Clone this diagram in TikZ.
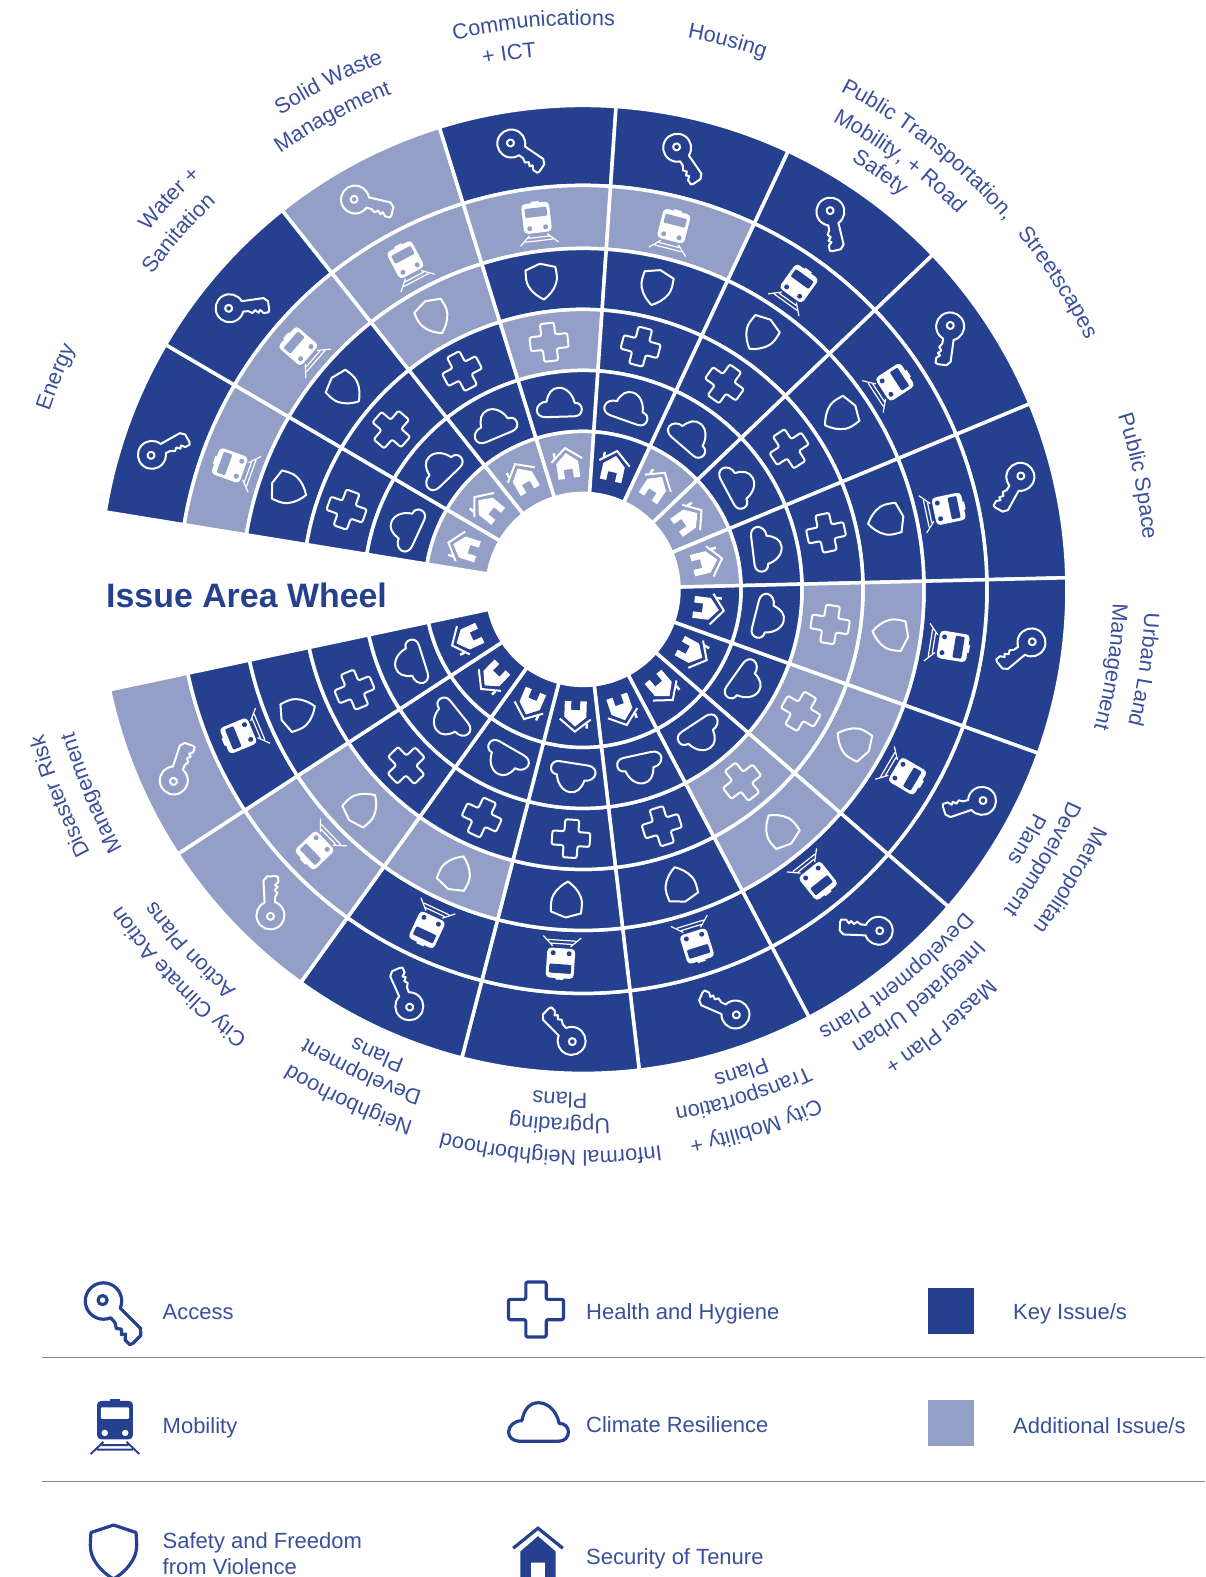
\documentclass[tikz,border=0pt]{standalone}
\usepackage{fontspec}
\setmainfont{Liberation Sans}
\usetikzlibrary{decorations.text}
\definecolor{toned}{HTML}{25408F}
\definecolor{tonel}{HTML}{939FC6}
\definecolor{wheeltext}{HTML}{3A4F9C}
\definecolor{rulegray}{HTML}{8A8A8A}
\colorlet{iconfg}{white}
\colorlet{iconbg}{toned}
\def\iconlw{2}
\newcommand\lblfont{\fontsize{21.7}{26}\selectfont\color{wheeltext}}
\tikzset{
    cell/.style={draw=white,line width=3.5,fill=iconbg},
    iconline/.style={draw=iconfg,line width=\iconlw,line join=round},
    legendtext/.style={anchor=west,inner sep=0pt,text=wheeltext,font=\fontsize{22}{26}\selectfont,align=left},
    swatch/.style={minimum size=46,inner sep=0pt}
}
% icons, drawn around the origin with the rim of the wheel upwards
\newcommand\iconKey{
    \begin{scope}[rotate=-41,shift={(-12.5,0)}]
    \draw[iconline] (22:14) arc[start angle=22,end angle=338,radius=14] -- (18,-5.5) -- (22,-8) -- (25,-5.5) -- (28,-8.5) -- (30,-6) -- (33,-9.5) -- (38,-9.5) -- (39,-7) -- (39,1.5) -- (35,5.3) -- cycle;
    \draw[iconline] (-1,0) circle (3.5);
    \end{scope}
}
\newcommand\iconTrain{
    \fill[iconfg,rounded corners=4] (-14,-10) rectangle (14,20);
    \fill[iconfg] (-4,19) rectangle (4,21.5);
    \fill[iconbg,rounded corners=1] (-11,6) rectangle (11,15);
    \fill[iconbg] (-8,-5) circle (2.5) (8,-5) circle (2.5);
    \draw[iconfg,line width=\iconlw*0.6] (-9,-12) -- (-19,-21.5) (9,-12) -- (19,-21.5) (-10.5,-14.5) -- (10.5,-14.5) (-14,-18) -- (14,-18);
}
\newcommand\iconShield{
    \draw[iconline] (0,18) -- (15,13) .. controls (15.5,6) and (16,2) .. (14,-3) .. controls (11,-10) and (5,-15) .. (0,-18) .. controls (-5,-15) and (-11,-10) .. (-14,-3) .. controls (-16,2) and (-15.5,6) .. (-15,13) -- cycle;
}
\newcommand\iconCross{
    \draw[iconline,rounded corners=2] (-7,19) -- (7,19) -- (7,7) -- (19,7) -- (19,-7) -- (7,-7) -- (7,-19) -- (-7,-19) -- (-7,-7) -- (-19,-7) -- (-19,7) -- (-7,7) -- cycle;
}
\newcommand\iconCloud{
    \draw[iconline] (-14,-14.5) -- (15,-14.5) .. controls (20,-14.5) and (22.5,-11) .. (22.5,-7.5) .. controls (22.5,-4) and (20,-1) .. (15.5,-1) .. controls (14,7) and (8,14.5) .. (0,14.5) .. controls (-7,14.5) and (-11,9) .. (-12.5,1) .. controls (-18,1) and (-22.5,-3) .. (-22.5,-7.5) .. controls (-22.5,-11.5) and (-19,-14.5) .. (-14,-14.5) -- cycle;
}
\newcommand\iconChimney{\fill[iconfg] (-13,7) rectangle (-10.5,12);}
\newcommand\iconHouse{
    \fill[iconfg] (-11,-15) -- (-11,1) -- (0,10.5) -- (11,1) -- (11,-15) -- (4.5,-15) -- (4.5,-6) -- (-4.5,-6) -- (-4.5,-15) -- cycle;
    \draw[iconfg,line width=\iconlw] (-15.5,3) -- (0,15.5) -- (15.5,3);
    \iconChimney
}
\newcommand\wheeltext[3]{
    \path[decorate,decoration={text along path,text={|\lblfont|#3},text align=center}] (#1+55:#2) arc[start angle=#1+55,end angle=#1-55,radius=#2];
}
\begin{document}
\begin{tikzpicture}[x=1pt,y=1pt]
    \useasboundingbox (0,0) rectangle (1205,-1577);
    \clip (0,0) rectangle (1205,-1577);
    \begin{scope}[shift={(583,-589.4)}]
    \def \step {21.176}
    \foreach \s/\tkey/\ttrain/\tshield/\tcross/\tcloud/\thouse in {
        0/d/l/d/d/d/l, 1/d/l/d/d/d/l, 2/l/l/l/d/d/l, 3/d/l/d/l/d/l,
        4/d/l/d/d/d/d, 5/d/d/d/d/d/l, 6/d/d/d/d/d/l, 7/d/d/d/d/d/l,
        8/d/d/l/l/d/d, 9/d/d/l/l/d/d, 10/d/d/l/l/d/d, 11/d/d/d/d/d/d,
        12/d/d/d/d/d/d, 13/d/d/l/d/d/d, 14/l/l/l/d/d/d, 15/l/d/d/d/d/d}{
    \pgfmathsetmacro\mid{160.2-\step*\s}
    \pgfmathsetmacro\aone{\mid+\step/2}
    \pgfmathsetmacro\atwo{\mid-\step/2}
    \foreach \rin/\rout/\tone/\ico/\dx/\dy/\dturn in {
        404/484/\tkey/\iconKey/-10/-1/0, 341/404/\ttrain/\iconTrain/-3/-3/0, 280/341/\tshield/\iconShield/-5/0/0,
        219/280/\tcross/\iconCross/-5/0/0, 158/219/\tcloud/\iconCloud/-2/0/-5, 96/158/\thouse/\iconHouse/-1/0/2}{
    \colorlet{iconbg}{tone\tone}
    \draw[cell] (\aone:\rin) arc[start angle=\aone,end angle=\atwo,radius=\rin] -- (\atwo:\rout) arc[start angle=\atwo,end angle=\aone,radius=\rout] -- cycle;
    \begin{scope}[shift={(\mid:{(\rin+\rout)/2})},rotate=\mid-90+\dturn,shift={(\dx,\dy)}]
    \ico
    \end{scope}
    }
    }
    \end{scope}
    % labels round the rim
    \begin{scope}[shift={(584,-588)}]
    \wheeltext{158.2}{563}{Energy}
    \wheeltext{136.8}{563}{Water +}
    \wheeltext{138.8}{533}{Sanitation}
    \wheeltext{116.8}{562}{Solid Waste}
    \wheeltext{118.1}{530}{Management}
    \wheeltext{95.1}{563}{Communications}
    \wheeltext{98}{533}{+ ICT}
    \wheeltext{75.3}{560}{Housing}
    \wheeltext{51.9}{559}{Public Transportation,}
    \wheeltext{53.5}{529}{Mobility, + Road}
    \wheeltext{54.5}{504}{Safety}
    \wheeltext{32.8}{560}{Streetscapes}
    \wheeltext{11.4}{561}{Public Space}
    \wheeltext{-8.3}{561}{Urban Land}
    \wheeltext{-8.5}{529}{Management}
    \wheeltext{-31}{563}{Metropolitan}
    \wheeltext{-30.6}{529}{Development}
    \wheeltext{-29.6}{503}{Plans}
    \wheeltext{-50.9}{562}{Master Plan +}
    \wheeltext{-50.7}{527}{Integrated Urban}
    \wheeltext{-51.2}{499}{Development Plans}
    \wheeltext{-72.3}{562}{City Mobility +}
    \wheeltext{-72.5}{528}{Transportation}
    \wheeltext{-72}{503}{Plans}
    \wheeltext{-93.4}{563}{Informal Neighborhood}
    \wheeltext{-92.6}{531}{Upgrading}
    \wheeltext{-92.7}{505}{Plans}
    \wheeltext{-114.7}{560}{Neighborhood}
    \wheeltext{-114.7}{529}{Development}
    \wheeltext{-113.9}{504}{Plans}
    \wheeltext{-136.2}{561}{City Climate Action}
    \wheeltext{-137.4}{531}{Action Plans}
    \wheeltext{-158.3}{560}{Disaster Risk}
    \wheeltext{-157.4}{530}{Management}
    \end{scope}
    \node[anchor=west,inner sep=0pt,text=toned,font=\fontsize{33.9}{40}\selectfont\bfseries] (title) at (106,-595) {Issue Area Wheel};
    % legend
    \colorlet{iconfg}{toned}
    \colorlet{iconbg}{white}
    \def\iconlw{3.2}
    \renewcommand\iconChimney{}
    \begin{scope}[shift={(115,-1312.5)},rotate=-4,scale=1.3]
    \iconKey
    \end{scope}
    \begin{scope}[shift={(115,-1426.5)},scale=1.28]
    \iconTrain
    \end{scope}
    \begin{scope}[shift={(113.5,-1552)},scale=1.5]
    \iconShield
    \end{scope}
    \begin{scope}[shift={(536,-1309.5)},scale=1.45]
    \iconCross
    \end{scope}
    \begin{scope}[shift={(538.5,-1422)},scale=1.33]
    \iconCloud
    \end{scope}
    \begin{scope}[shift={(538,-1553)},scale=1.6]
    \iconHouse
    \end{scope}
    \node[legendtext] (access) at (162.5,-1312) {Access};
    \node[legendtext] (mobility) at (162.5,-1428) {Mobility};
    \node[legendtext] (safety) at (162.5,-1554) {Safety and Freedom\\from Violence};
    \node[legendtext] (health) at (586,-1314) {Health and Hygiene};
    \node[legendtext] (climate) at (586,-1425) {Climate Resilience};
    \node[legendtext] (tenure) at (586,-1559) {Security of Tenure};
    \node[swatch,fill=toned] (keyswatch) at (951,-1311) {};
    \node[swatch,fill=tonel] (addswatch) at (951,-1423) {};
    \node[legendtext] (keyissue) at (1013,-1314) {Key Issue/s};
    \node[legendtext] (addissue) at (1013,-1426) {Additional Issue/s};
    \draw[rulegray,line width=1] (42,-1357) -- (1205,-1357);
    \draw[rulegray,line width=1] (42,-1481) -- (1205,-1481);
\end{tikzpicture}
\end{document}
